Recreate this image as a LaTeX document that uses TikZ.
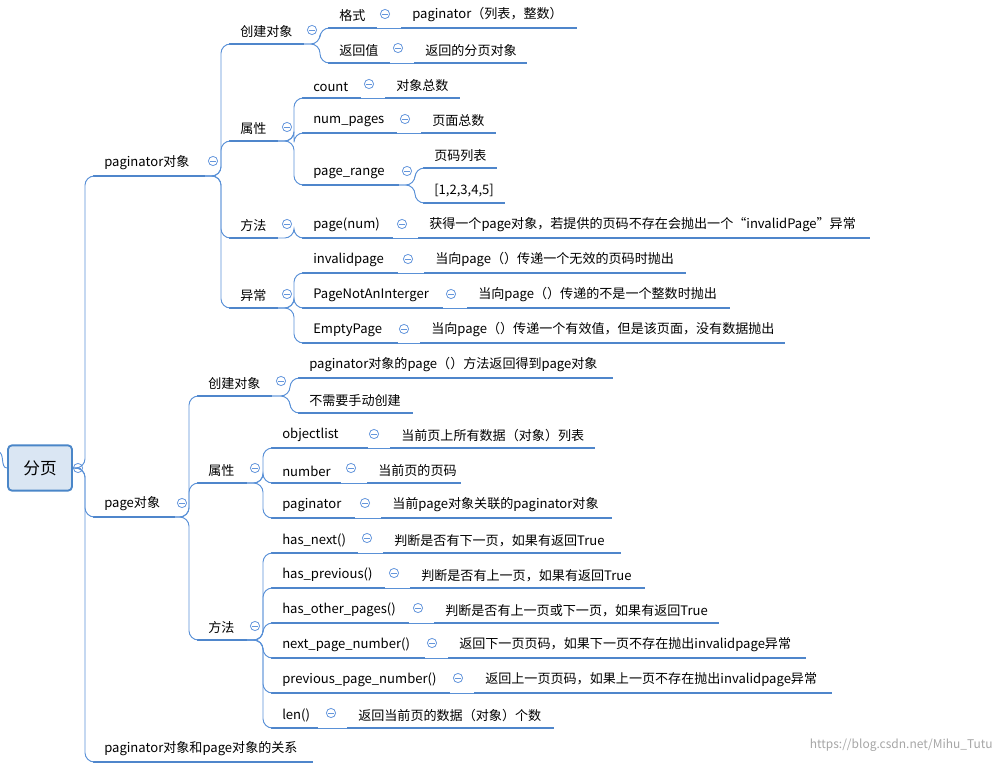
\documentclass[tikz,border=0pt]{standalone}
\usepackage{fontspec}
\setmainfont{Noto Sans CJK SC}
\newcommand\mi[5]{%
 \coordinate (#1a) at (#2,#4); \coordinate (#1b) at (#3,#4);
 \draw[ul] (#1a) -- (#1b);
 \node[txt] (#1) at (#2+11,#4-6) {#5};}
\newcommand\cc[2]{\draw[collc] (#1,#2) circle (4.6); \draw[collc] (#1-2.6,#2) -- (#1+2.6,#2);}
\newcommand\cn[2]{\draw[con,rounded corners=7pt] (#1b) -- ([xshift=-6pt]#2a |- #1b) -- ([xshift=-6pt]#2a) -- (#2a);}
\newcommand\sn[2]{\draw[con] (#1b) -- (#2a);}
\begin{document}
\begin{tikzpicture}[x=0.75pt,y=-0.75pt,
 ul/.style={line width=2.1pt,color={rgb,255:red,79;green,134;blue,203}},
 con/.style={line width=0.7pt,color={rgb,255:red,90;green,145;blue,215}},
 collc/.style={line width=0.6pt,color={rgb,255:red,100;green,150;blue,220}},
 txt/.style={anchor=south west,inner sep=0pt,font=\fontsize{9.8}{11}\selectfont}]
\useasboundingbox (0,0) rectangle (1001,764);
% root
\node[draw={rgb,255:red,74;green,134;blue,200},line width=1.4pt,rounded corners=3pt,fill={rgb,255:red,218;green,230;blue,243},minimum width=48pt,minimum height=34pt,font=\fontsize{12.5}{14}\selectfont] (root) at (40,468) {分页};
\draw[con] (-2,452) to[out=0,in=180] (root.west);
\coordinate (rootb) at (root.east);
\cc{78}{468}
% level 1
\mi{p}{93}{205}{176}{paginator对象} \cc{213}{161}
\mi{g}{93}{175}{517}{page对象} \cc{182}{503}
\mi{r}{93}{313}{762}{paginator对象和page对象的关系}
\cn{root}{p} \cn{root}{g} \cn{root}{r}
% paginator
\mi{pc}{229}{304}{44}{创建对象} \cc{312}{30}
\mi{pa}{229}{278}{141}{属性} \cc{287}{127}
\mi{pm}{229}{278}{238}{方法} \cc{287}{224}
\mi{pe}{229}{278}{308}{异常} \cc{287}{294}
\cn{p}{pc} \cn{p}{pa} \cn{p}{pm} \cn{p}{pe}
\mi{pc1}{328}{377}{28}{格式} \cc{385}{14}
\mi{pc1x}{401}{577}{28}{paginator（列表，整数）}
\mi{pc2}{328}{390}{63}{返回值} \cc{398}{48}
\mi{pc2x}{414}{527}{63}{返回的分页对象}
\cn{pc}{pc1} \cn{pc}{pc2} \sn{pc1}{pc1x} \sn{pc2}{pc2x}
\mi{pa1}{302}{361}{98}{count} \cc{369}{84}
\mi{pa1x}{385}{460}{98}{对象总数}
\mi{pa2}{302}{397}{133}{num\_pages} \cc{405}{119}
\mi{pa2x}{421}{496}{133}{页面总数}
\mi{pa3}{302}{399}{185}{page\_range} \cc{407}{171}
\mi{pa3x}{423}{497}{168}{页码列表}
\mi{pa3y}{423}{505}{203}{[1,2,3,4,5]}
\cn{pa}{pa1} \cn{pa}{pa2} \cn{pa}{pa3} \sn{pa1}{pa1x} \sn{pa2}{pa2x} \cn{pa3}{pa3x} \cn{pa3}{pa3y}
\mi{pm1}{302}{393}{238}{page(num)} \cc{402}{224}
\mi{pm1x}{418}{870}{238}{获得一个page对象，若提供的页码不存在会抛出一个“invalidPage”异常}
\cn{pm}{pm1} \sn{pm1}{pm1x}
\mi{pe1}{302}{398}{273}{invalidpage} \cc{408}{259}
\mi{pe1x}{424}{686}{273}{当向page（）传递一个无效的页码时抛出}
\mi{pe2}{302}{443}{308}{PageNotAnInterger} \cc{451}{294}
\mi{pe2x}{467}{730}{308}{当向page（）传递的不是一个整数时抛出}
\mi{pe3}{302}{398}{343}{EmptyPage} \cc{404}{329}
\mi{pe3x}{420}{785}{343}{当向page（）传递一个有效值，但是该页面，没有数据抛出}
\cn{pe}{pe1} \cn{pe}{pe2} \cn{pe}{pe3} \sn{pe1}{pe1x} \sn{pe2}{pe2x} \sn{pe3}{pe3x}
% page
\mi{gc}{197}{272}{396}{创建对象} \cc{281}{381}
\mi{ga}{197}{247}{483}{属性} \cc{255}{468}
\mi{gm}{197}{247}{640}{方法} \cc{255}{626}
\cn{g}{gc} \cn{g}{ga} \cn{g}{gm}
\mi{gc1}{298}{613}{378}{paginator对象的page（）方法返回得到page对象}
\mi{gc2}{298}{413}{413}{不需要手动创建}
\cn{gc}{gc1} \cn{gc}{gc2}
\mi{ga1}{271}{368}{448}{objectlist} \cc{374}{434}
\mi{ga1x}{390}{595}{448}{当前页上所有数据（对象）列表}
\mi{ga2}{271}{341}{483}{number} \cc{351}{468}
\mi{ga2x}{367}{461}{483}{当前页的页码}
\mi{ga3}{271}{355}{518}{paginator} \cc{365}{503}
\mi{ga3x}{381}{612}{518}{当前page对象关联的paginator对象}
\cn{ga}{ga1} \cn{ga}{ga2} \cn{ga}{ga3} \sn{ga1}{ga1x} \sn{ga2}{ga2x} \sn{ga3}{ga3x}
\mi{gm1}{271}{358}{553}{has\_next()} \cc{367}{538}
\mi{gm1x}{383}{621}{553}{判断是否有下一页，如果有返回True}
\mi{gm2}{271}{385}{588}{has\_previous()} \cc{394}{573}
\mi{gm2x}{410}{645}{588}{判断是否有上一页，如果有返回True}
\mi{gm3}{271}{409}{623}{has\_other\_pages()} \cc{418}{608}
\mi{gm3x}{434}{719}{623}{判断是否有上一页或下一页，如果有返回True}
\mi{gm4}{271}{425}{658}{next\_page\_number()} \cc{432}{643}
\mi{gm4x}{448}{806}{658}{返回下一页页码，如果下一页不存在抛出invalidpage异常}
\mi{gm5}{271}{450}{693}{previous\_page\_number()} \cc{458}{678}
\mi{gm5x}{474}{832}{693}{返回上一页页码，如果上一页不存在抛出invalidpage异常}
\mi{gm6}{271}{318}{728}{len()} \cc{331}{713}
\mi{gm6x}{347}{554}{728}{返回当前页的数据（对象）个数}
\foreach \i in {1,...,6}{\sn{gm\i}{gm\i x} \cn{gm}{gm\i}}
\node[anchor=east,inner sep=0pt,text=gray!70,font=\fontsize{9}{10}\selectfont] (wm) at (993,745) {https://blog.csdn.net/Mihu\_Tutu};
\end{tikzpicture}
\end{document}
